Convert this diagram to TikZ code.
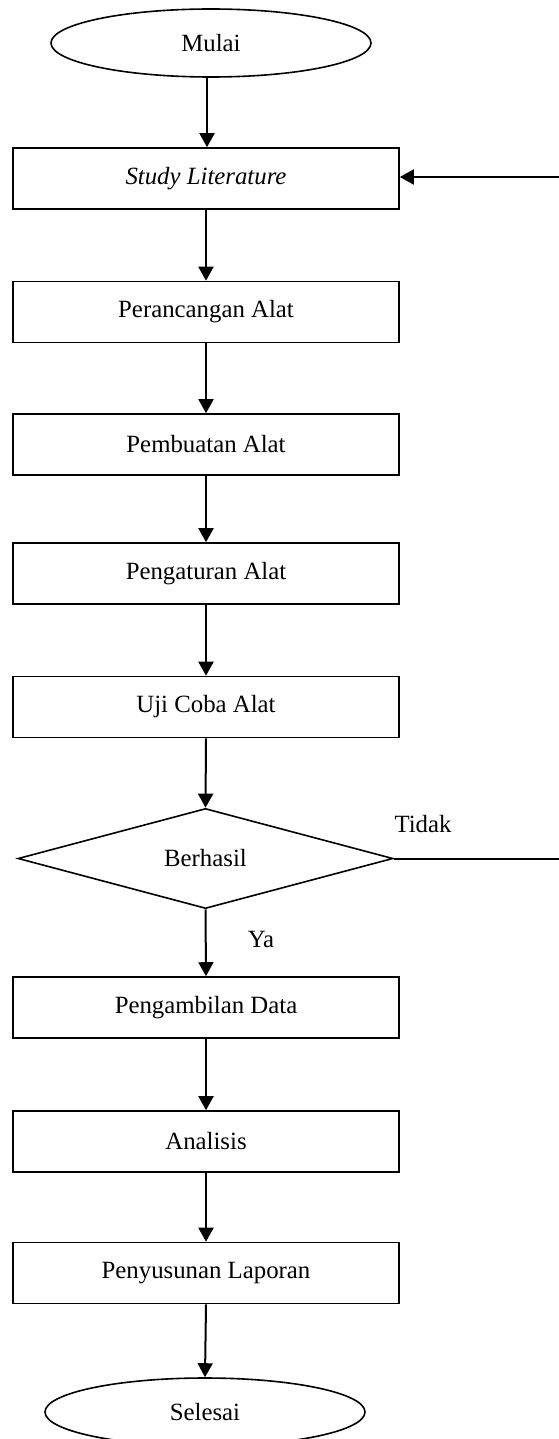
\documentclass[tikz,border=0pt]{standalone}
\usepackage{fontspec}
\setmainfont{Liberation Serif}
\usetikzlibrary{arrows.meta,shapes.geometric}
\begin{document}
\begin{tikzpicture}[x=1pt,y=-1pt,
  txt/.style={font=\fontsize{24.8}{30}\selectfont},
  box/.style={txt,draw,line width=1.6pt,minimum width=386pt,minimum height=61pt,inner sep=0pt},
  term/.style={txt,draw,ellipse,line width=1.6pt,minimum width=320pt,minimum height=68pt,inner sep=0pt},
  dec/.style={txt,draw,diamond,line width=1.6pt,minimum width=375pt,minimum height=95pt,inner sep=0pt},
  arr/.style={line width=2pt,-{Triangle[width=15pt,length=14pt]}},
  plain/.style={line width=2pt}]
\clip (0,0) rectangle (559,1439);
\fill[white] (0,0) rectangle (559,1439);
\node[term] (mulai) at (211,43) {Mulai};
\node[box] (study) at (206,178.5) {\textit{Study Literature}};
\node[box] (rancang) at (206,312) {Perancangan Alat};
\node[box] (buat) at (206,444.5) {Pembuatan Alat};
\node[box] (atur) at (206,573.5) {Pengaturan Alat};
\node[box] (uji) at (206,707) {Uji Coba Alat};
\node[dec] (hasil) at (205.5,858.5) {Berhasil};
\node[box] (ambil) at (206,1007.5) {Pengambilan Data};
\node[box] (analisis) at (206,1141.5) {Analisis};
\node[box] (susun) at (206,1273) {Penyusunan Laporan};
\node[term] (selesai) at (205,1412) {Selesai};
\node[txt] (tidak) at (423,824) {Tidak};
\node[txt] (ya) at (261,939) {Ya};
\coordinate (loop) at (566,858.5);
\draw[arr] (207,77) -- (study.north -| 207,0);
\draw[arr] (study.south) -- (rancang.north);
\draw[arr] (rancang.south) -- (buat.north);
\draw[arr] (buat.south) -- (atur.north);
\draw[arr] (atur.south) -- (uji.north);
\draw[arr] (uji.south) -- (hasil.north);
\draw[arr] (hasil.south) -- (ambil.north);
\draw[arr] (ambil.south) -- (analisis.north);
\draw[arr] (analisis.south) -- (susun.north);
\draw[arr] (susun.south) -- (selesai.north);
\draw[arr] (hasil.east) -- (loop) |- ([yshift=1.5pt]study.east);
\end{tikzpicture}
\end{document}
